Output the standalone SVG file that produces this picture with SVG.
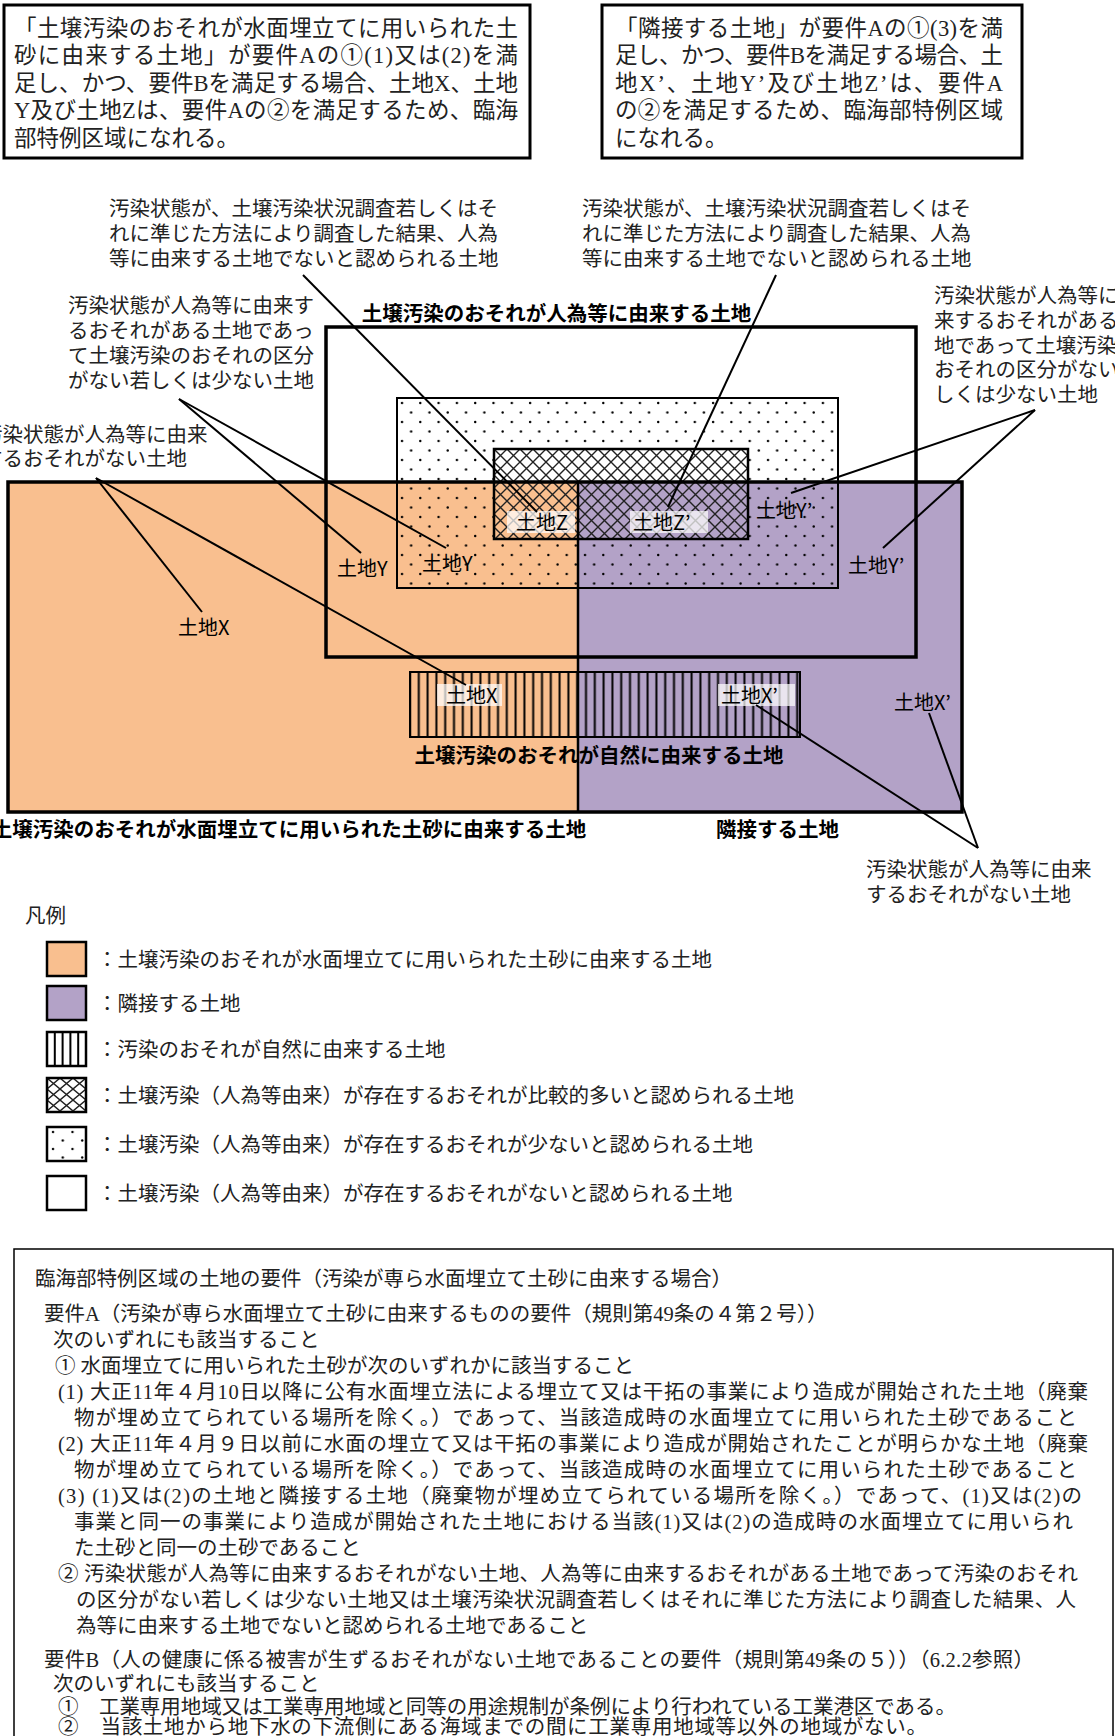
<svg xmlns="http://www.w3.org/2000/svg" width="1115" height="1736" viewBox="0 0 1115 1736">
<style>
.mt{font-family:"Liberation Serif","Noto Sans CJK JP",serif;fill:#222}
.box{font-size:22.5px}
.co{font-size:20.5px}
.lg{font-size:20.5px}
.bt{font-size:20.5px}
.lb{font-family:"Noto Sans CJK JP",sans-serif;font-size:20px;fill:#000}
.bl{font-family:"Noto Sans CJK JP",sans-serif;font-size:20.5px;font-weight:bold;fill:#000;text-anchor:middle}
.ld{stroke:#000;stroke-width:2;fill:none}
.frame{fill:none;stroke:#000;stroke-width:3}
.thick{fill:none;stroke:#000;stroke-width:3.5}
.or{fill:#F9BF8F}
.pu{fill:#B3A2C7}
.lbg{fill:#fff;fill-opacity:0.72}
.sw{stroke:#000;stroke-width:2.5}
</style>
<defs>
<pattern id="pDots" patternUnits="userSpaceOnUse" x="397" y="398" width="18.3" height="19">
<circle cx="5" cy="5" r="1.2" fill="#000"/>
<circle cx="14.15" cy="14.5" r="1.2" fill="#000"/>
</pattern>
<pattern id="pX" patternUnits="userSpaceOnUse" x="494" y="449" width="13" height="13">
<path d="M-2,-2 L15,15 M15,-2 L-2,15" stroke="#222" stroke-width="1.4"/>
</pattern>
<pattern id="pV" patternUnits="userSpaceOnUse" x="405.6" y="0" width="8.8" height="20">
<line x1="4.4" y1="0" x2="4.4" y2="20" stroke="#000" stroke-width="2"/>
</pattern>
<pattern id="pX2" patternUnits="userSpaceOnUse" x="47" y="1078" width="13" height="11">
<path d="M-1.3,-1.1 L14.3,12.1 M14.3,-1.1 L-1.3,12.1" stroke="#222" stroke-width="1.4"/>
</pattern>
<pattern id="pD2" patternUnits="userSpaceOnUse" x="47" y="1127" width="19.5" height="17">
<circle cx="6" cy="5" r="1.2" fill="#000"/>
<circle cx="15.75" cy="13.5" r="1.2" fill="#000"/>
</pattern>
</defs>
<rect width="1115" height="1736" fill="#fff"/>

<g id="note-left">
<rect class="frame" x="4" y="5" width="526" height="153"/>
<text class="mt box" x="14" y="35.5" textLength="504" lengthAdjust="spacing">「土壌汚染のおそれが水面埋立てに用いられた土</text>
<text class="mt box" x="14" y="63" textLength="504" lengthAdjust="spacing">砂に由来する土地」が要件Aの①(1)又は(2)を満</text>
<text class="mt box" x="14" y="90.5" textLength="504" lengthAdjust="spacing">足し、かつ、要件Bを満足する場合、土地X、土地</text>
<text class="mt box" x="14" y="118" textLength="504" lengthAdjust="spacing">Y及び土地Zは、要件Aの②を満足するため、臨海</text>
<text class="mt box" x="14" y="145.5">部特例区域になれる。</text>
</g>

<g id="note-right">
<rect class="frame" x="602" y="5" width="420" height="153"/>
<text class="mt box" x="615" y="35.5" textLength="388" lengthAdjust="spacing">「隣接する土地」が要件Aの①(3)を満</text>
<text class="mt box" x="615" y="63" textLength="388" lengthAdjust="spacing">足し、かつ、要件Bを満足する場合、土</text>
<text class="mt box" x="615" y="90.5" textLength="388" lengthAdjust="spacing">地X’、土地Y’及び土地Z’は、要件A</text>
<text class="mt box" x="615" y="118" textLength="388" lengthAdjust="spacing">の②を満足するため、臨海部特例区域</text>
<text class="mt box" x="615" y="145.5">になれる。</text>
</g>

<g id="land-reclaimed"><rect class="or" x="8" y="482" width="570" height="330"/></g>
<g id="land-adjacent"><rect class="pu" x="578" y="482" width="384" height="330"/></g>

<g id="area-low-risk">
<rect x="397" y="398" width="441" height="190" fill="url(#pDots)" stroke="#000" stroke-width="2"/>
</g>
<g id="area-high-risk">
<rect x="494" y="449" width="254" height="33" fill="#fff"/>
<rect class="or" x="494" y="482" width="84" height="57"/>
<rect class="pu" x="578" y="482" width="170" height="57"/>
<rect x="494" y="449" width="254" height="90" fill="url(#pX)" stroke="#000" stroke-width="2.5"/>
</g>
<g id="area-natural">
<rect x="410" y="672" width="390" height="65" fill="url(#pV)" stroke="#000" stroke-width="2"/>
</g>
<g id="area-anthropogenic">
<rect class="thick" x="326" y="327" width="590" height="330"/>
</g>
<g id="outer-border">
<rect class="thick" x="8" y="482" width="954" height="330"/>
<line x1="578" y1="482" x2="578" y2="812" stroke="#000" stroke-width="2.5"/>
</g>

<g id="area-labels">
<text class="bl" x="556.5" y="321">土壌汚染のおそれが人為等に由来する土地</text>
<text class="bl" x="599" y="763">土壌汚染のおそれが自然に由来する土地</text>
<text class="bl" x="289" y="837">土壌汚染のおそれが水面埋立てに用いられた土砂に由来する土地</text>
<text class="bl" x="777.5" y="837">隣接する土地</text>
</g>

<g id="land-labels">
<rect class="lbg" x="507" y="511" width="68" height="22"/>
<rect class="lbg" x="630" y="511" width="78" height="22"/>
<rect class="lbg" x="437" y="684" width="65" height="22"/>
<rect class="lbg" x="718" y="684" width="77" height="22"/>
<text class="lb" x="337" y="575.6">土地Y</text>
<text class="lb" x="422" y="570.6">土地Y</text>
<text class="lb" x="516" y="529.6">土地Z</text>
<text class="lb" x="633" y="529.6">土地Z’</text>
<text class="lb" x="756" y="517.6">土地Y’</text>
<text class="lb" x="848" y="572.6">土地Y’</text>
<text class="lb" x="178" y="634.6">土地X</text>
<text class="lb" x="446" y="702.6">土地X</text>
<text class="lb" x="721" y="702.6">土地X’</text>
<text class="lb" x="894" y="709.6">土地X’</text>
</g>

<g id="callout-survey-left">
<text class="mt co" x="109" y="216">汚染状態が、土壌汚染状況調査若しくはそ</text>
<text class="mt co" x="109" y="241">れに準じた方法により調査した結果、人為</text>
<text class="mt co" x="109" y="266">等に由来する土地でないと認められる土地</text>
</g>
<g id="callout-survey-right">
<text class="mt co" x="582" y="216">汚染状態が、土壌汚染状況調査若しくはそ</text>
<text class="mt co" x="582" y="241">れに準じた方法により調査した結果、人為</text>
<text class="mt co" x="582" y="266">等に由来する土地でないと認められる土地</text>
</g>
<g id="callout-low-left">
<text class="mt co" x="68" y="313">汚染状態が人為等に由来す</text>
<text class="mt co" x="68" y="338">るおそれがある土地であっ</text>
<text class="mt co" x="68" y="363">て土壌汚染のおそれの区分</text>
<text class="mt co" x="68" y="388">がない若しくは少ない土地</text>
</g>
<g id="callout-none-left">
<text class="mt co" x="-18" y="442">汚染状態が人為等に由来</text>
<text class="mt co" x="-18" y="466">するおそれがない土地</text>
</g>
<g id="callout-low-right">
<text class="mt co" x="934" y="303">汚染状態が人為等に由</text>
<text class="mt co" x="934" y="328">来するおそれがある土</text>
<text class="mt co" x="934" y="353">地であって土壌汚染の</text>
<text class="mt co" x="934" y="377">おそれの区分がない若</text>
<text class="mt co" x="934" y="402">しくは少ない土地</text>
</g>
<g id="callout-none-right">
<text class="mt co" x="866" y="877">汚染状態が人為等に由来</text>
<text class="mt co" x="866" y="902">するおそれがない土地</text>
</g>

<g id="connectors">
<line class="ld" x1="303" y1="275" x2="537" y2="512"/>
<line class="ld" x1="776" y1="275" x2="668" y2="507"/>
<line class="ld" x1="179" y1="399" x2="361" y2="553"/>
<line class="ld" x1="179" y1="399" x2="446" y2="548"/>
<line class="ld" x1="96" y1="478" x2="202" y2="612"/>
<line class="ld" x1="96" y1="478" x2="466" y2="685"/>
<line class="ld" x1="1035" y1="410" x2="791" y2="493"/>
<line class="ld" x1="1035" y1="410" x2="883" y2="548"/>
<line class="ld" x1="978" y1="848" x2="756" y2="705"/>
<line class="ld" x1="978" y1="848" x2="929" y2="713"/>
</g>

<g id="legend">
<text class="mt lg" x="25" y="923">凡例</text>
<rect class="or sw" x="47" y="942" width="39" height="34"/>
<text class="mt lg" x="97" y="967">：土壌汚染のおそれが水面埋立てに用いられた土砂に由来する土地</text>
<rect class="pu sw" x="47" y="986" width="39" height="34"/>
<text class="mt lg" x="97" y="1011">：隣接する土地</text>
<rect class="sw" x="47" y="1032" width="39" height="34" fill="#fff"/>
<path d="M54.8,1032V1066M62.6,1032V1066M70.4,1032V1066M78.2,1032V1066" stroke="#000" stroke-width="2"/>
<text class="mt lg" x="97" y="1057">：汚染のおそれが自然に由来する土地</text>
<rect class="sw" x="47" y="1078" width="39" height="34" fill="url(#pX2)"/>
<text class="mt lg" x="97" y="1103">：土壌汚染（人為等由来）が存在するおそれが比較的多いと認められる土地</text>
<rect class="sw" x="47" y="1127" width="39" height="34" fill="url(#pD2)"/>
<text class="mt lg" x="97" y="1152">：土壌汚染（人為等由来）が存在するおそれが少ないと認められる土地</text>
<rect class="sw" x="47" y="1176" width="39" height="34" fill="#fff"/>
<text class="mt lg" x="97" y="1201">：土壌汚染（人為等由来）が存在するおそれがないと認められる土地</text>
</g>

<g id="requirements">
<rect x="14" y="1249" width="1099" height="600" fill="none" stroke="#000" stroke-width="1.5"/>
<text class="mt bt" x="35" y="1286">臨海部特例区域の土地の要件（汚染が専ら水面埋立て土砂に由来する場合）</text>
<text class="mt bt" x="44" y="1321">要件A（汚染が専ら水面埋立て土砂に由来するものの要件（規則第49条の４第２号））</text>
<text class="mt bt" x="53" y="1347">次のいずれにも該当すること</text>
<text class="mt bt" x="55" y="1373">① 水面埋立てに用いられた土砂が次のいずれかに該当すること</text>
<text class="mt bt" x="58" y="1399" textLength="1030" lengthAdjust="spacing">(1) 大正11年４月10日以降に公有水面埋立法による埋立て又は干拓の事業により造成が開始された土地（廃棄</text>
<text class="mt bt" x="74" y="1425" textLength="1003" lengthAdjust="spacing">物が埋め立てられている場所を除く。）であって、当該造成時の水面埋立てに用いられた土砂であること</text>
<text class="mt bt" x="58" y="1451" textLength="1030" lengthAdjust="spacing">(2) 大正11年４月９日以前に水面の埋立て又は干拓の事業により造成が開始されたことが明らかな土地（廃棄</text>
<text class="mt bt" x="74" y="1477" textLength="1003" lengthAdjust="spacing">物が埋め立てられている場所を除く。）であって、当該造成時の水面埋立てに用いられた土砂であること</text>
<text class="mt bt" x="58" y="1503" textLength="1024" lengthAdjust="spacing">(3) (1)又は(2)の土地と隣接する土地（廃棄物が埋め立てられている場所を除く。）であって、(1)又は(2)の</text>
<text class="mt bt" x="74" y="1529" textLength="999" lengthAdjust="spacing">事業と同一の事業により造成が開始された土地における当該(1)又は(2)の造成時の水面埋立てに用いられ</text>
<text class="mt bt" x="74" y="1555">た土砂と同一の土砂であること</text>
<text class="mt bt" x="58" y="1581" textLength="1020" lengthAdjust="spacing">② 汚染状態が人為等に由来するおそれがない土地、人為等に由来するおそれがある土地であって汚染のおそれ</text>
<text class="mt bt" x="76" y="1607" textLength="1000" lengthAdjust="spacing">の区分がない若しくは少ない土地又は土壌汚染状況調査若しくはそれに準じた方法により調査した結果、人</text>
<text class="mt bt" x="76" y="1633">為等に由来する土地でないと認められる土地であること</text>
<text class="mt bt" x="44" y="1667" textLength="990" lengthAdjust="spacing">要件B（人の健康に係る被害が生ずるおそれがない土地であることの要件（規則第49条の５））（6.2.2参照）</text>
<text class="mt bt" x="53" y="1691">次のいずれにも該当すること</text>
<text class="mt bt" x="58" y="1714" textLength="898" lengthAdjust="spacing">①　工業専用地域又は工業専用地域と同等の用途規制が条例により行われている工業港区である。</text>
<text class="mt bt" x="58" y="1734" textLength="869" lengthAdjust="spacing">②　当該土地から地下水の下流側にある海域までの間に工業専用地域等以外の地域がない。</text>
</g>
</svg>
